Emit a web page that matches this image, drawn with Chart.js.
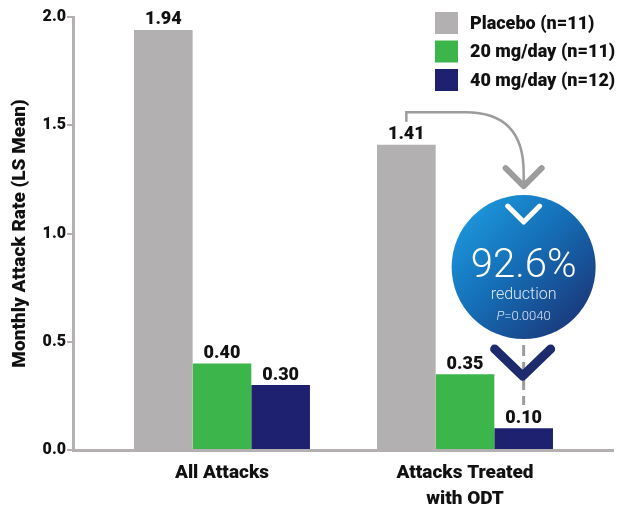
<!DOCTYPE html>
<html>
<head>
<meta charset="utf-8">
<script src="https://cdn.jsdelivr.net/npm/chart.js@4.4.0/dist/chart.umd.min.js"></script>
<style>
  html, body { margin: 0; padding: 0; background: #fff; }
  #wrap { position: relative; width: 618px; height: 508px; }
</style>
</head>
<body>
<div id="wrap"><canvas id="chart" width="618" height="508"></canvas></div>
<script>
// chart data
const categories = [['All Attacks'], ['Attacks Treated', 'with ODT']];
const seriesNames = ['Placebo (n=11)', '20 mg/day (n=11)', '40 mg/day (n=12)'];
const placebo = [1.94, 1.41];
const mg20 = [0.40, 0.35];
const mg40 = [0.30, 0.10];
const yTicks = [0.0, 0.5, 1.0, 1.5, 2.0];
const reductionPct = '92.6%';
const reductionLabel = 'reduction';
const pValue = '0.0040';

const colors = ['#b3b0b1', '#3cb54a', '#1d2170'];
const axisGray = '#b4afb0';
const FONT = "Roboto, 'DejaVu Sans', sans-serif";
const HEAVY = '900';

function toPoints(arr) {
  return arr.map((v, i) => ({ x: i, y: v }));
}

// value labels above the bars
const valueLabels = {
  id: 'valueLabels',
  afterDatasetsDraw(chart) {
    const ctx = chart.ctx;
    ctx.save();
    ctx.font = HEAVY + ' 18px ' + FONT;
    ctx.fillStyle = '#111';
    ctx.textAlign = 'center';
    ctx.textBaseline = 'bottom';
    chart.data.datasets.forEach((ds, di) => {
      chart.getDatasetMeta(di).data.forEach((bar, i) => {
        ctx.fillText(ds.data[i].y.toFixed(2), bar.x, bar.y - 1);
      });
    });
    ctx.restore();
  }
};

// legend in the top right corner
const cornerLegend = {
  id: 'cornerLegend',
  afterDraw(chart) {
    const ctx = chart.ctx;
    ctx.save();
    ctx.font = HEAVY + ' 18px ' + FONT;
    ctx.textBaseline = 'middle';
    ctx.textAlign = 'left';
    chart.data.datasets.forEach((ds, i) => {
      const y = 12 + i * 28.5;
      ctx.fillStyle = ds.backgroundColor;
      ctx.fillRect(435, y, 23, 22);
      ctx.fillStyle = '#111';
      ctx.fillText(ds.label, 470, y + 12);
    });
    ctx.restore();
  }
};

// the reduction bubble and arrows
const reductionBubble = {
  id: 'reductionBubble',
  afterDraw(chart) {
    const ctx = chart.ctx;
    const yScale = chart.scales.y;
    const startBar = chart.getDatasetMeta(0).data[1];
    const endBar = chart.getDatasetMeta(2).data[1];
    const cx = endBar.x;
    const cy = yScale.getPixelForValue(0.845);
    const r = 72;
    const topY = yScale.getPixelForValue(1.56);

    ctx.save();
    // curved gray arrow
    ctx.strokeStyle = '#9c9c9c';
    ctx.lineWidth = 2.5;
    ctx.beginPath();
    ctx.moveTo(startBar.x, startBar.y - 23);
    ctx.lineTo(startBar.x, topY);
    ctx.lineTo(cx - 58, topY);
    ctx.quadraticCurveTo(cx, topY, cx, topY + 60);
    ctx.lineTo(cx, cy - r - 12);
    ctx.stroke();

    ctx.lineWidth = 6;
    ctx.lineCap = 'round';
    ctx.lineJoin = 'round';
    ctx.beginPath();
    ctx.moveTo(cx - 18, cy - r - 27);
    ctx.lineTo(cx, cy - r - 9);
    ctx.lineTo(cx + 18, cy - r - 27);
    ctx.stroke();

    // dashed line below the bubble
    ctx.setLineDash([11, 6]);
    ctx.lineWidth = 3;
    ctx.lineCap = 'butt';
    ctx.beginPath();
    ctx.moveTo(cx, cy + r + 6);
    ctx.lineTo(cx, cy + r + 66);
    ctx.stroke();
    ctx.setLineDash([]);

    // circle
    const grad = ctx.createLinearGradient(cx - r, cy - r, cx + r, cy + r);
    grad.addColorStop(0, '#1fa2e6');
    grad.addColorStop(0.45, '#1570b8');
    grad.addColorStop(1, '#1c2a6c');
    ctx.fillStyle = grad;
    ctx.beginPath();
    ctx.arc(cx, cy, r, 0, Math.PI * 2);
    ctx.fill();

    // white chevron inside
    ctx.strokeStyle = '#ffffff';
    ctx.lineWidth = 5;
    ctx.lineCap = 'round';
    ctx.beginPath();
    ctx.moveTo(cx - 16, cy - 61);
    ctx.lineTo(cx, cy - 45);
    ctx.lineTo(cx + 16, cy - 61);
    ctx.stroke();

    // navy chevron below
    ctx.strokeStyle = '#1e2a6e';
    ctx.lineWidth = 9;
    ctx.beginPath();
    ctx.moveTo(cx - 29, cy + 82);
    ctx.lineTo(cx - 1, cy + 109);
    ctx.lineTo(cx + 27, cy + 82);
    ctx.stroke();

    // texts
    ctx.textAlign = 'center';
    ctx.textBaseline = 'alphabetic';
    ctx.fillStyle = '#ffffff';
    ctx.font = '300 40px Roboto, sans-serif';
    ctx.fillText(reductionPct, cx, cy + 10);
    ctx.fillStyle = '#dbe8f4';
    ctx.font = '300 16px Roboto, sans-serif';
    ctx.fillText(reductionLabel, cx, cy + 32);
    ctx.font = 'italic 300 13px Roboto, sans-serif';
    const pW = ctx.measureText('P').width;
    ctx.font = '300 13px Roboto, sans-serif';
    const rest = '=' + pValue;
    const rW = ctx.measureText(rest).width;
    const x0 = cx - (pW + rW) / 2;
    ctx.textAlign = 'left';
    ctx.font = 'italic 300 13px Roboto, sans-serif';
    ctx.fillText('P', x0, cy + 53);
    ctx.font = '300 13px Roboto, sans-serif';
    ctx.fillText(rest, x0 + pW, cy + 53);
    ctx.restore();
  }
};

const ctx = document.getElementById('chart').getContext('2d');
new Chart(ctx, {
  type: 'bar',
  data: {
    datasets: [
      { label: seriesNames[0], data: toPoints(placebo), backgroundColor: colors[0] },
      { label: seriesNames[1], data: toPoints(mg20), backgroundColor: colors[1] },
      { label: seriesNames[2], data: toPoints(mg40), backgroundColor: colors[2] }
    ]
  },
  options: {
    responsive: false,
    animation: false,
    layout: { padding: { top: 17, right: 5, left: 0, bottom: 0 } },
    datasets: { bar: { categoryPercentage: 0.724, barPercentage: 1.0 } },
    plugins: {
      legend: { display: false },
      tooltip: { enabled: false }
    },
    scales: {
      x: {
        type: 'linear',
        offset: false,
        bounds: 'data',
        min: -0.613,
        max: 1.609,
        afterBuildTicks(scale) {
          scale.ticks = categories.map((c, i) => ({ value: i }));
        },
        afterFit(scale) { scale.height = 58; },
        grid: { display: false, drawTicks: false },
        border: { display: true, color: axisGray, width: 3 },
        ticks: {
          maxRotation: 0,
          padding: 10,
          color: '#111',
          font: { family: FONT, size: 19, weight: HEAVY, lineHeight: 1.37 },
          callback: (v) => categories[v]
        }
      },
      y: {
        min: 0,
        max: 2,
        afterBuildTicks(scale) {
          scale.ticks = yTicks.map(v => ({ value: v }));
        },
        afterFit(scale) { scale.width = 73; },
        grid: { display: true, drawOnChartArea: false, drawTicks: true, tickLength: 6, color: axisGray, lineWidth: 2 },
        border: { display: true, color: axisGray, width: 3 },
        ticks: {
          padding: 1,
          color: '#111',
          font: { family: FONT, size: 16, weight: HEAVY },
          callback: (v) => v.toFixed(1)
        },
        title: {
          display: true,
          text: 'Monthly Attack Rate (LS Mean)',
          color: '#111',
          padding: { top: 9, bottom: 4 },
          font: { family: FONT, size: 19, weight: HEAVY }
        }
      }
    }
  },
  plugins: [valueLabels, cornerLegend, reductionBubble]
});
</script>
</body>
</html>
